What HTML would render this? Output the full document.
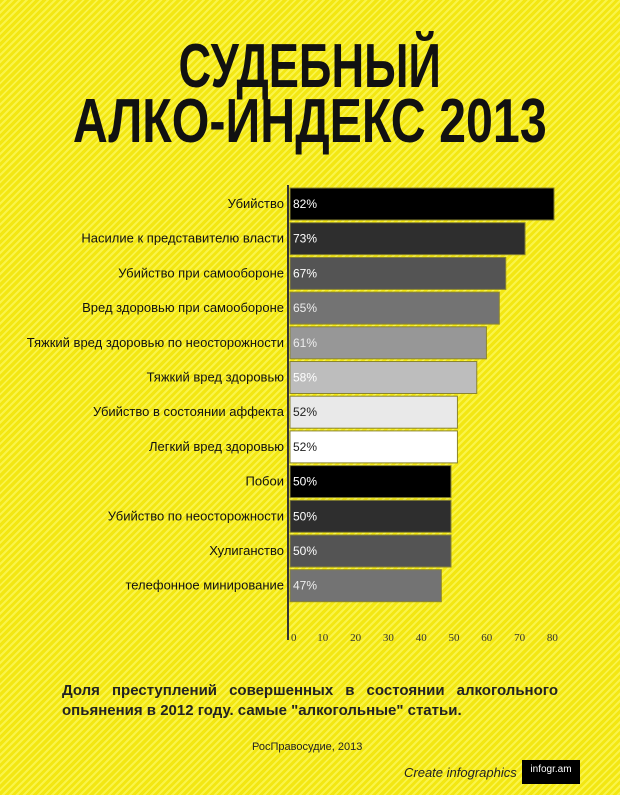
<!DOCTYPE html>
<html><head><meta charset="utf-8"><style>
body{margin:0;width:620px;height:795px;overflow:hidden;font-family:"Liberation Sans",sans-serif}
#bg{position:absolute;left:0;top:0;width:620px;height:795px;background:#f3e712;
background-image:repeating-linear-gradient(135deg,rgba(255,255,255,0) 0 3px,rgba(255,255,120,.55) 3px 5px)}
.t{position:absolute;left:0;width:620px;text-align:center;font-weight:bold;font-size:62px;color:#111;line-height:1;white-space:nowrap}
.t span{display:inline-block;transform-origin:center}
.cap{position:absolute;left:62px;width:496px;font-size:15px;font-weight:bold;color:#222;text-align:justify;text-align-last:justify;line-height:20px}
</style></head><body>
<div id="bg"></div>
<div class="t" style="top:36px"><span style="transform:scaleX(0.73)">СУДЕБНЫЙ</span></div>
<div class="t" style="top:91px"><span style="transform:scaleX(0.78)">АЛКО-ИНДЕКС 2013</span></div>
<svg id="chart" width="620" height="795" style="position:absolute;left:0;top:0"></svg>
<div class="cap" style="top:681px">Доля преступлений совершенных в состоянии алкогольного</div>
<div class="cap" style="top:701px;text-align-last:left">опьянения в 2012 году. самые "алкогольные" статьи.</div>
<div style="position:absolute;left:252px;top:741px;font-size:11px;color:#222">РосПравосудие, 2013</div>
<div style="position:absolute;left:404px;top:765px;font-size:13px;font-style:italic;color:#222">Create infographics</div>
<div style="position:absolute;left:522px;top:760px;width:58px;height:24px;background:#000;color:#fff;font-size:10px;text-align:center;line-height:20px">infogr.am</div>
<script>
const categories=["Убийство","Насилие к представителю власти","Убийство при самообороне","Вред здоровью при самообороне","Тяжкий вред здоровью по неосторожности","Тяжкий вред здоровью","Убийство в состоянии аффекта","Легкий вред здоровью","Побои","Убийство по неосторожности","Хулиганство","телефонное минирование"];
const values=[82,73,67,65,61,58,52,52,50,50,50,47];
const ticks=[0,10,20,30,40,50,60,70,80];
const colors=["#000","#2e2e2e","#545454","#737373","#979797","#bdbdbd","#e9e9e9","#fff","#000","#2e2e2e","#545454","#737373"];
const textCols=["#fff","#fff","#fff","#eee","#eee","#fff","#222","#222","#fff","#fff","#fff","#eee"];
const NS="http://www.w3.org/2000/svg",svg=document.getElementById("chart");
const x0=290,sc=3.22,y0=188,step=34.7,bh=32;
const xs=v=>x0+v*sc, ys=i=>y0+i*step;
function mk(t,a){const e=document.createElementNS(NS,t);for(const k in a)e.setAttribute(k,a[k]);svg.appendChild(e);return e;}
categories.forEach((c,i)=>{
 const r=mk("rect",{x:x0,y:ys(i),width:xs(values[i])-x0,height:bh,fill:colors[i],stroke:"#8a8530","stroke-width":1});
 
 
 const l=mk("text",{x:284,y:ys(i)+bh/2+4,"text-anchor":"end","font-size":"13",fill:"#111"});l.textContent=c;
 
 
 const v=mk("text",{x:x0+3,y:ys(i)+bh/2+4,"font-size":"12",fill:textCols[i]});v.textContent=values[i]+"%";
 
 
});
const ax=mk("line",{x1:288,x2:288,y1:185,y2:640,stroke:"#333","stroke-width":2});


ticks.forEach(t=>{
 const e=mk("text",{x:xs(t)+(t==0?1:0)+t*0.06,y:641,"text-anchor":t==0?"start":"middle","font-size":"11","font-family":"Liberation Serif,serif",fill:"#333"});e.textContent=t;
 
 
});
</script>
</body></html>
